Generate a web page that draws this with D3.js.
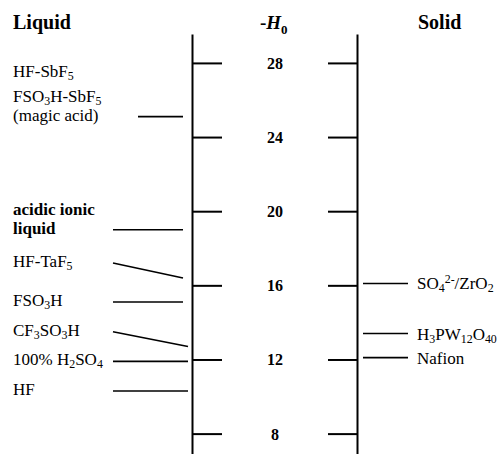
<!DOCTYPE html>
<html>
<head>
<meta charset="utf-8">
<script src="https://cdn.jsdelivr.net/npm/d3@7"></script>
<style>
  body { margin: 0; background: #fff; }
</style>
</head>
<body>
<svg width="504" height="454"></svg>
<script>
// -H0 values
let ticks = [8, 12, 16, 20, 24, 28];

// liquids: label (| = new line, _{} = subscript), -H0 where the pointer ends (null = no pointer)
let liquidNames = ['HF-SbF_{5}', 'FSO_{3}H-SbF_{5}|(magic acid)', 'acidic ionic|liquid', 'HF-TaF_{5}',
  'FSO_{3}H', 'CF_{3}SO_{3}H', '100% H_{2}SO_{4}', 'HF'];
let liquidH0 = [null, 25.1, 19.0, 16.4, 15.1, 12.7, 11.9, 10.3];

// solids
let solidNames = ['SO_{4}^{2-}/ZrO_{2}', 'H_{3}PW_{12}O_{40}', 'Nafion'];
let solidH0 = [16.1, 13.4, 12.1];

// layout only: level where each liquid label sits (left end of pointer)
let liquidLabelAt = [27.45, 25.1, 19.0, 17.2, 15.1, 13.5, 11.9, 10.3];
let liquidBold = [false, false, true, false, false, false, false, false];

let svg = d3.select('svg');
let width = +svg.attr('width');
let height = +svg.attr('height');
let serif = 'Liberation Serif';

let y = d3.scaleLinear().domain([6.9, 29.56]).range([height, 34]);

let leftX = 192, rightX = 357, midX = 275;

// axes
svg.append('g')
  .attr('transform', `translate(${leftX},0)`)
  .call(d3.axisRight(y).tickValues(ticks).tickSize(30).tickSizeOuter(0).tickFormat(''))
  .call(g => g.selectAll('path, line').attr('stroke', '#000').attr('stroke-width', 2));

svg.append('g')
  .attr('transform', `translate(${rightX},0)`)
  .call(d3.axisLeft(y).tickValues(ticks).tickSize(29).tickSizeOuter(0).tickFormat(''))
  .call(g => g.selectAll('path, line').attr('stroke', '#000').attr('stroke-width', 2));

// tick labels in between
svg.append('g').selectAll('text')
  .data(ticks)
  .enter().append('text')
    .attr('x', midX)
    .attr('y', d => y(d) + 6)
    .attr('text-anchor', 'middle')
    .attr('font-family', serif)
    .attr('font-size', 16)
    .attr('font-weight', 'bold')
    .text(d => d);

// headers
svg.append('text').attr('x', 13).attr('y', 29).attr('font-family', serif)
  .attr('font-size', 20).attr('font-weight', 'bold').text('Liquid');
svg.append('text').attr('x', 418).attr('y', 29).attr('font-family', serif)
  .attr('font-size', 20).attr('font-weight', 'bold').text('Solid');

let h0 = svg.append('text').attr('x', 260).attr('y', 29).attr('font-family', serif)
  .attr('font-size', 19).attr('font-weight', 'bold');
h0.append('tspan').text('-');
h0.append('tspan').attr('font-style', 'italic').text('H');
h0.append('tspan').attr('dy', 5).attr('font-size', 13).text('0');

// write a label with _{sub} and ^{sup} parts
function richText(sel, str, size) {
  let parts = str.split(/(_\{[^}]*\}|\^\{[^}]*\})/).filter(s => s.length);
  let shift = 0;
  parts.forEach(p => {
    let t = sel.append('tspan');
    let want = 0;
    if (p[0] == '_') { want = 3; t.attr('font-size', size * 0.7); p = p.slice(2, -1); }
    else if (p[0] == '^') { want = -6; t.attr('font-size', size * 0.7); p = p.slice(2, -1); }
    if (want != shift) t.attr('dy', want - shift);
    shift = want;
    t.text(p);
  });
}

// liquid pointers
let liquidLineX = [[113, 183], [138, 183], [113, 183], [113, 183], [113, 183], [113, 188], [113, 188], [113, 188]];

svg.append('g').selectAll('line')
  .data(liquidH0.map((v, i) => ({ v: v, i: i })).filter(d => d.v != null))
  .enter().append('line')
    .attr('x1', d => liquidLineX[d.i][0])
    .attr('x2', d => liquidLineX[d.i][1])
    .attr('y1', d => y(liquidLabelAt[d.i]))
    .attr('y2', d => y(d.v))
    .attr('stroke', '#000')
    .attr('stroke-width', 1.6);

// liquid labels
liquidNames.forEach((name, i) => {
  let rows = name.split('|');
  rows.forEach((row, r) => {
    let t = svg.append('text')
      .attr('x', 13)
      .attr('y', y(liquidLabelAt[i]) + 4 - (rows.length - 1 - r) * 19)
      .attr('font-family', serif)
      .attr('font-size', 17)
      .attr('font-weight', liquidBold[i] ? 'bold' : 'normal');
    richText(t, row, 17);
  });
});

// solid pointers and labels
svg.append('g').selectAll('line')
  .data(solidH0)
  .enter().append('line')
    .attr('x1', 363)
    .attr('x2', 408)
    .attr('y1', d => y(d))
    .attr('y2', d => y(d))
    .attr('stroke', '#000')
    .attr('stroke-width', 1.6);

solidNames.forEach((name, i) => {
  let t = svg.append('text')
    .attr('x', 417)
    .attr('y', y(solidH0[i]) + 6)
    .attr('font-family', serif)
    .attr('font-size', 17);
  richText(t, name, 17);
});
</script>
</body>
</html>
